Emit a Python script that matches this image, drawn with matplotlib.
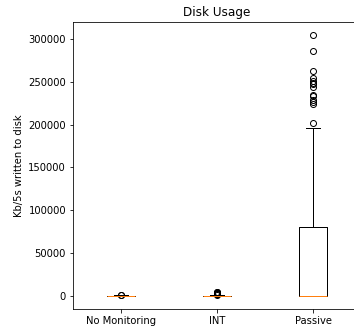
import matplotlib
matplotlib.use("Agg")
import matplotlib.pyplot as plt

# summary statistics per monitoring mode (Kb written to disk per 5s)
labels = ["No Monitoring", "INT", "Passive"]
medians = [0, 0, 500]
q1s = [0, 0, 0]
q3s = [300, 400, 80300]
whis_lo = [0, 0, 0]
whis_hi = [700, 900, 196000]
fliers = [
    [1000, 1400],
    [1300, 1800, 2300, 2900, 3400, 3900, 4400, 4800],
    [202000, 223600, 226000, 229000, 232900, 235000, 244000, 246800,
     249000, 251000, 253800, 262700, 285900, 304400],
]

stats = []
for i, name in enumerate(labels):
    stats.append(dict(label=name, med=medians[i], q1=q1s[i], q3=q3s[i],
                      whislo=whis_lo[i], whishi=whis_hi[i], fliers=fliers[i]))

fig = plt.figure(figsize=(354 / 72, 335 / 72), dpi=72)
ax = fig.add_axes([73 / 354, 1 - 309 / 335, 288 / 354, 287 / 335])
ax.bxp(stats)
ax.set_title("Disk Usage")
ax.set_ylabel("Kb/5s written to disk")
fig.savefig("out.png", dpi=72)
